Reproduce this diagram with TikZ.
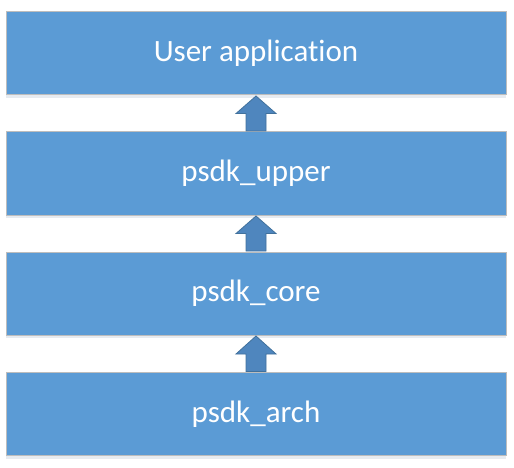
\documentclass[tikz,border=0pt]{standalone}
\usepackage{fontspec}
\setmainfont[Ligatures=NoCommon]{Carlito}
\usetikzlibrary{calc,shadows}
\definecolor{boxblue}{HTML}{5B9BD5}
\definecolor{boxedge}{HTML}{BDBDBD}
\definecolor{arrowblue}{HTML}{4F86BE}
\definecolor{arrowedge}{HTML}{41719C}
\begin{document}
\begin{tikzpicture}[x=1pt,y=-1pt,
  layer/.style={draw=boxedge, line width=1pt, fill=boxblue, minimum width=500pt, minimum height=83pt,
    inner sep=0pt, text=white, font=\fontsize{31}{36}\selectfont,
    drop shadow={shadow xshift=0pt, shadow yshift=-3pt, opacity=0.12, fill=boxblue!60!black}},
  uparrow/.style={fill=arrowblue, draw=arrowedge, line width=0.8pt, line join=miter}]
\useasboundingbox (0,0) rectangle (514,468);
\node[layer] (app) at (256,53.5) {User application};
\node[layer] (upper) at (256,173.5) {psdk\_upper};
\node[layer] (core) at (256,293.5) {psdk\_core};
\node[layer] (arch) at (256,414) {psdk\_arch};
\foreach \lo/\hi in {upper/app, core/upper, arch/core}{
  \draw[uparrow] ($(\lo.north)+(-10,-0.5)$) -- ($(\lo.north)+(-10,-18)$) -- ($(\lo.north)+(-20,-18)$)
    -- ($(\hi.south)+(0,0.5)$) -- ($(\lo.north)+(20,-18)$) -- ($(\lo.north)+(10,-18)$)
    -- ($(\lo.north)+(10,-0.5)$) -- cycle;
}
\end{tikzpicture}
\end{document}
